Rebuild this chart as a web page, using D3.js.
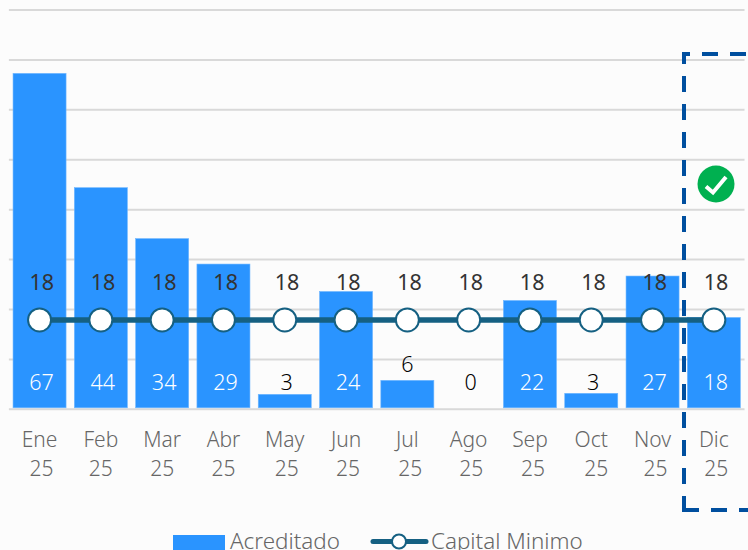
<!DOCTYPE html>
<html>
<head>
<meta charset="utf-8">
<script src="https://cdnjs.cloudflare.com/ajax/libs/d3/7.8.5/d3.min.js"></script>
<style>
html,body{margin:0;padding:0;background:#fcfcfc;overflow:hidden}
svg{display:block;font-family:"Noto Sans",sans-serif}
</style>
</head>
<body>
<svg id="c" width="748" height="550"></svg>
<script>
const months = ["Ene","Feb","Mar","Abr","May","Jun","Jul","Ago","Sep","Oct","Nov","Dic"];
const years = ["25","25","25","25","25","25","25","25","25","25","25","25"];
const acreditado = [67.2,44.3,34.1,29,2.9,23.5,5.7,0,21.7,3.1,26.6,18.3];
const acreditadoLabels = ["67","44","34","29","3","24","6","0","22","3","27","18"];
const capitalMinimo = [17.8,17.8,17.8,17.8,17.8,17.8,17.8,17.8,17.8,17.8,17.8,17.8];
const capitalLabels = ["18","18","18","18","18","18","18","18","18","18","18","18"];
const yTicks = [0,10,20,30,40,50,60,70,80];
const seriesNames = ["Acreditado","Capital Minimo"];

const svg = d3.select("#c");
const x = d3.scaleBand().domain(months).range([8.9,744.5]).paddingInner(0.135).paddingOuter(0.0675);
const y = d3.scaleLinear().domain([0,80]).range([408.8,9.5]);
const mid = m => x(m)+x.bandwidth()/2;
const txt = "#666666", lineCol = "#156082", barCol = "#2a94ff";

// gridlines
const grid = svg.append("g").attr("transform","translate(8.9,0)")
  .call(d3.axisLeft(y).tickValues(yTicks).tickSize(-735.6).tickFormat(""));
grid.select(".domain").remove();
grid.selectAll("line").attr("stroke","#d9d9d9").attr("stroke-width",2);

// bars
svg.append("g").selectAll("rect").data(months).join("rect")
  .attr("x",m=>x(m)).attr("width",x.bandwidth())
  .attr("y",(m,i)=>y(acreditado[i])).attr("height",(m,i)=>y(0)-1-y(acreditado[i]))
  .attr("fill",barCol).attr("stroke","#6fb6ff").attr("stroke-width",0.6);

// dashed highlight box
const box = svg.append("g").attr("fill","none").attr("stroke","#004f9f").attr("stroke-width",4);
box.append("path").attr("d","M746,54H684V497").attr("stroke-dasharray","16 12");
box.append("path").attr("d","M684,497V510H748").attr("stroke-dasharray","28 12 16 12 16 12");

// line + markers
const line = d3.line().x((d,i)=>mid(months[i])).y(d=>y(d));
svg.append("path").datum(capitalMinimo).attr("d",line).attr("fill","none").attr("stroke",lineCol).attr("stroke-width",5.5);
svg.append("g").selectAll("circle").data(capitalMinimo).join("circle")
  .attr("cx",(d,i)=>mid(months[i])).attr("cy",d=>y(d)).attr("r",11.5)
  .attr("fill","#fff").attr("stroke",lineCol).attr("stroke-width",2);

// data labels
svg.append("g").selectAll("text").data(capitalLabels).join("text")
  .attr("x",(d,i)=>mid(months[i])+2.2).attr("y",290).attr("text-anchor","middle")
  .attr("font-size",21.5).attr("font-weight",400).attr("fill","#333").text(d=>d);
svg.append("g").selectAll("text").data(acreditadoLabels).join("text")
  .attr("x",(d,i)=>mid(months[i])+(months[i]==="Jul"?0:2)).attr("y",(d,i)=>months[i]==="Jul"?371.7:390)
  .attr("text-anchor","middle").attr("font-size",21.5).attr("font-weight",300)
  .attr("fill",(d,i)=>acreditado[i]>=18?"#fff":"#000").text(d=>d);

// x axis labels
const yearShift = [2,0,0,0,2,2,3,2.5,3,5,3,2.5];
const xl = svg.append("g").attr("fill",txt).attr("font-size",21).attr("font-weight",300).attr("text-anchor","middle");
xl.selectAll("text.m").data(months).join("text").attr("class","m").attr("x",mid).attr("y",446.7).text(d=>d);
xl.selectAll("text.y").data(years).join("text").attr("class","y")
  .attr("x",(d,i)=>mid(months[i])+yearShift[i]).attr("y",476).text(d=>d);

// status icon
svg.append("circle").attr("cx",716).attr("cy",184).attr("r",18.5).attr("fill","#00b050");
svg.append("path").attr("d","M706,186.5L713,192.5L726,177").attr("fill","none").attr("stroke","#fff").attr("stroke-width",4);

// legend
const lg = svg.append("g").attr("font-size",22.4).attr("font-weight",300).attr("fill",txt);
lg.append("rect").attr("x",173).attr("y",535).attr("width",52).attr("height",15).attr("fill",barCol);
lg.append("text").attr("x",230).attr("y",549).text(seriesNames[0]);
lg.append("line").attr("x1",373).attr("x2",426).attr("y1",541.5).attr("y2",541.5).attr("stroke",lineCol).attr("stroke-width",5).attr("stroke-linecap","round");
lg.append("circle").attr("cx",399).attr("cy",541.5).attr("r",7).attr("fill","#fff").attr("stroke",lineCol).attr("stroke-width",2);
lg.append("text").attr("x",431).attr("y",549).text(seriesNames[1]);
</script>
</body>
</html>
